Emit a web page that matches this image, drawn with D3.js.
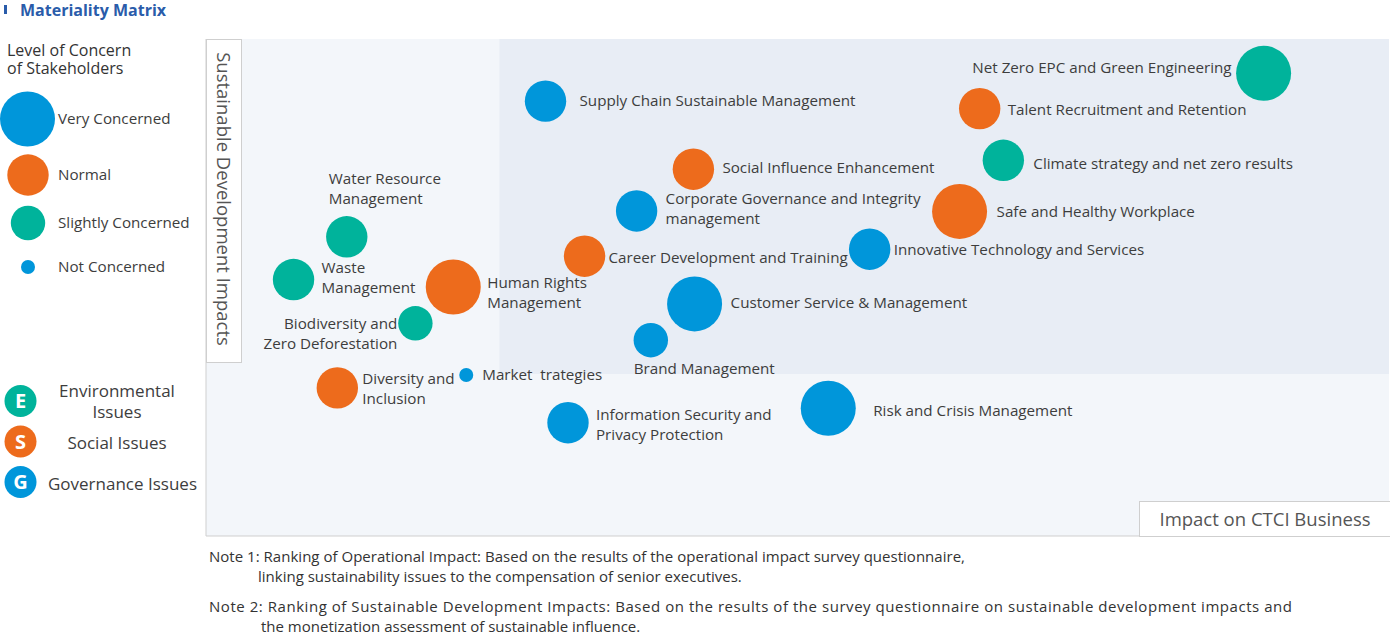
<!DOCTYPE html>
<html>
<head>
<meta charset="utf-8">
<script src="https://cdn.jsdelivr.net/npm/d3@7"></script>
<style>
  body { margin: 0; background: #fff; }
  svg text { font-family: "Open Sans", sans-serif; }
</style>
</head>
<body>
<div id="matrix"></div>
<script>
// issues, plotted on 0-100 scales (x: impact on CTCI business, y: sustainable development impacts)
var issues = [
  "Net Zero EPC and Green Engineering", "Talent Recruitment and Retention", "Climate strategy and net zero results",
  "Safe and Healthy Workplace", "Supply Chain Sustainable Management", "Social Influence Enhancement",
  "Corporate Governance and Integrity management", "Career Development and Training", "Innovative Technology and Services",
  "Customer Service & Management", "Brand Management", "Human Rights Management",
  "Water Resource Management", "Waste Management", "Biodiversity and Zero Deforestation",
  "Diversity and Inclusion", "Market  trategies", "Information Security and Privacy Protection",
  "Risk and Crisis Management"
];
var issueCategory = ["E", "S", "E", "S", "G", "S", "G", "S", "G", "G", "G", "S", "E", "E", "E", "S", "G", "G", "G"];
var issueConcern = [3, 2, 2, 3, 2, 2, 2, 2, 2, 3, 1, 3, 2, 2, 1, 2, 0, 2, 3];
var businessImpact = [89.4, 65.4, 67.4, 63.7, 28.7, 41.2, 36.4, 32.0, 56.1, 41.3, 37.6, 20.9, 11.9, 7.4, 17.7, 11.1, 22.0, 30.6, 52.6];
var sustainImpact = [93.1, 86.0, 75.6, 65.3, 87.5, 73.8, 65.4, 56.3, 57.7, 46.7, 39.4, 50.1, 60.2, 51.6, 42.8, 29.8, 32.4, 22.8, 25.7];

// thresholds of the material (shaded) zone
var materialX = 24.8;
var materialY = 32.6;

var concernLevels = ["Not Concerned", "Slightly Concerned", "Normal", "Very Concerned"];
var categories = ["E", "S", "G"];
var categoryNames = [["Environmental", "Issues"], ["Social Issues"], ["Governance Issues"]];

var notes = [
  ["Note 1:", "Ranking of Operational Impact: Based on the results of the operational impact survey questionnaire,", "linking sustainability issues to the compensation of senior executives."],
  ["Note 2:", "Ranking of Sustainable Development Impacts: Based on the results of the survey questionnaire on sustainable development impacts and", "the monetization assessment of sustainable influence."]
];

// label layout: [dx, dy of first line, anchor, line break]
var labelPlacement = {
  "Net Zero EPC and Green Engineering": [-32, -6, "end"],
  "Talent Recruitment and Retention": [28, 1, "start"],
  "Climate strategy and net zero results": [30, 3, "start"],
  "Safe and Healthy Workplace": [37, 0, "start"],
  "Supply Chain Sustainable Management": [34, 0, "start"],
  "Social Influence Enhancement": [29, -2, "start"],
  "Corporate Governance and Integrity management": [29, -12, "start", ["Corporate Governance and Integrity", "management"]],
  "Career Development and Training": [24, 1, "start"],
  "Innovative Technology and Services": [24, 0, "start"],
  "Customer Service & Management": [36, -1, "start"],
  "Brand Management": [-17, 28, "start"],
  "Human Rights Management": [34, -4, "start", ["Human Rights", "Management"]],
  "Water Resource Management": [-18, -58, "start", ["Water Resource", "Management"]],
  "Waste Management": [28, -12, "start", ["Waste", "Management"]],
  "Biodiversity and Zero Deforestation": [-18, 0, "end", ["Biodiversity and", "Zero Deforestation"]],
  "Diversity and Inclusion": [25, -9, "start", ["Diversity and", "Inclusion"]],
  "Market  trategies": [16, 0, "start"],
  "Information Security and Privacy Protection": [28, -8, "start", ["Information Security and", "Privacy Protection"]],
  "Risk and Crisis Management": [45, 2, "start"]
};

var colors = { E: "#00b39b", S: "#ed6b1c", G: "#0096da" };
var textColor = "#3d3d3d";

var width = 1390, height = 635;
var plot = { left: 206, right: 1389, top: 39, bottom: 536 };

var svg = d3.select("#matrix")
    .append("svg")
    .attr("width", width)
    .attr("height", height);

var x = d3.scaleLinear().domain([0, 100]).range([plot.left, plot.right]);
var y = d3.scaleLinear().domain([0, 100]).range([plot.bottom, plot.top]);
var r = d3.scaleOrdinal().domain([0, 1, 2, 3]).range([7, 17.2, 20.7, 27.5]);

// title
svg.append("rect").attr("x", 4).attr("y", 5).attr("width", 3).attr("height", 9).attr("fill", "#2a5caa");
svg.append("text")
    .attr("x", 20).attr("y", 16)
    .attr("font-size", 16).attr("font-weight", "bold")
    .attr("fill", "#2a5caa")
    .text("Materiality Matrix");

// plot backgrounds
svg.append("rect")
    .attr("x", plot.left).attr("y", plot.top)
    .attr("width", plot.right - plot.left).attr("height", plot.bottom - plot.top)
    .attr("fill", "#f3f6fa");
svg.append("rect")
    .attr("x", x(materialX)).attr("y", plot.top)
    .attr("width", plot.right - x(materialX)).attr("height", y(materialY) - plot.top)
    .attr("fill", "#e8edf5");

svg.append("path")
    .attr("d", "M" + plot.left + "," + plot.top + "V" + plot.bottom + "H" + plot.right)
    .attr("fill", "none").attr("stroke", "#cfcfcf");

// axis title boxes
svg.append("rect")
    .attr("x", plot.left + 0.5).attr("y", plot.top + 0.5)
    .attr("width", 35).attr("height", 323)
    .attr("fill", "#fff").attr("stroke", "#cfcfcf");
svg.append("text")
    .attr("transform", "translate(" + (plot.left + 11) + "," + 199 + ") rotate(90)")
    .attr("text-anchor", "middle")
    .attr("font-size", 18.5).attr("fill", "#555")
    .text("Sustainable Development Impacts");

svg.append("rect")
    .attr("x", 1139.5).attr("y", 501.5)
    .attr("width", 252).attr("height", 35)
    .attr("fill", "#fff").attr("stroke", "#cfcfcf");
svg.append("text")
    .attr("x", 1265).attr("y", 525.5)
    .attr("text-anchor", "middle")
    .attr("font-size", 18.5).attr("fill", "#555")
    .text("Impact on CTCI Business");

// bubbles
var data = issues.map(function(d, i) {
  return { name: d, cat: issueCategory[i], concern: issueConcern[i], bx: businessImpact[i], sy: sustainImpact[i] };
});

var g = svg.append("g");
g.selectAll("circle")
    .data(data)
    .enter()
    .append("circle")
    .attr("cx", function(d) { return x(d.bx); })
    .attr("cy", function(d) { return y(d.sy); })
    .attr("r", function(d) { return r(d.concern); })
    .attr("fill", function(d) { return colors[d.cat]; });

var labels = g.selectAll(".label")
    .data(data)
    .enter()
    .append("text")
    .attr("class", "label")
    .attr("xml:space", "preserve")
    .style("white-space", "pre")
    .attr("font-size", 15.2)
    .attr("fill", textColor)
    .attr("text-anchor", function(d) { return labelPlacement[d.name][2]; });

labels.each(function(d) {
  var p = labelPlacement[d.name];
  var lines = p[3] || [d.name];
  var t = d3.select(this);
  lines.forEach(function(line, k) {
    t.append("tspan")
      .attr("x", x(d.bx) + p[0])
      .attr("y", y(d.sy) + p[1] + k * 20)
      .attr("dy", "0.35em")
      .text(line);
  });
});

// concern legend
svg.append("text")
    .attr("font-size", 16).attr("fill", "#333")
    .selectAll("tspan")
    .data(["Level of Concern", "of Stakeholders"])
    .enter()
    .append("tspan")
    .attr("x", 7)
    .attr("y", function(d, i) { return 56 + i * 18; })
    .text(function(d) { return d; });

var concernY = [267, 223, 175, 119];
var concernX = [28, 28, 28, 27.5];
var lg = svg.append("g").selectAll("g")
    .data(concernLevels)
    .enter()
    .append("g");
lg.append("circle")
    .attr("cx", function(d, i) { return concernX[i]; })
    .attr("cy", function(d, i) { return concernY[i]; })
    .attr("r", function(d, i) { return r(i); })
    .attr("fill", function(d, i) { return i == 2 ? colors.S : (i == 1 ? colors.E : colors.G); });
lg.append("text")
    .attr("x", 58)
    .attr("y", function(d, i) { return concernY[i]; })
    .attr("dy", "0.35em")
    .attr("font-size", 15.2).attr("fill", textColor)
    .text(function(d) { return d; });

// ESG legend
var catY = [401, 441.5, 482];
var cg = svg.append("g").selectAll("g")
    .data(categories)
    .enter()
    .append("g");
cg.append("circle")
    .attr("cx", 20.5)
    .attr("cy", function(d, i) { return catY[i]; })
    .attr("r", 16)
    .attr("fill", function(d) { return colors[d]; });
cg.append("text")
    .attr("x", 20.5)
    .attr("y", function(d, i) { return catY[i]; })
    .attr("dy", "0.36em")
    .attr("text-anchor", "middle")
    .attr("font-size", 20).attr("font-weight", "bold").attr("fill", "#fff")
    .text(function(d) { return d; });
cg.append("text")
    .attr("text-anchor", "middle")
    .attr("font-size", 17).attr("fill", textColor)
    .each(function(d, i) {
      var t = d3.select(this);
      var lines = categoryNames[i];
      lines.forEach(function(line, k) {
        t.append("tspan")
          .attr("x", i == 2 ? 122.5 : 117)
          .attr("y", catY[i] + (lines.length > 1 ? -10 : 2) + k * 21)
          .attr("dy", "0.35em")
          .text(line);
      });
    });

// notes
var noteY = [557, 607];
var noteWidth = [756, 1083];
var ng = svg.append("g").selectAll("g")
    .data(notes)
    .enter()
    .append("text")
    .attr("font-family", "Roboto, sans-serif")
    .attr("font-size", 15).attr("fill", "#333");
ng.append("tspan")
    .attr("x", 209)
    .attr("y", function(d, i) { return noteY[i]; })
    .attr("dy", "0.35em")
    .attr("textLength", function(d, i) { return noteWidth[i]; })
    .attr("lengthAdjust", "spacing")
    .text(function(d) { return d[0] + " " + d[1]; });
ng.append("tspan")
    .attr("x", function(d, i) { return i == 0 ? 258 : 261; })
    .attr("y", function(d, i) { return noteY[i] + 20; })
    .attr("dy", "0.35em")
    .text(function(d) { return d[2]; });
</script>
</body>
</html>
